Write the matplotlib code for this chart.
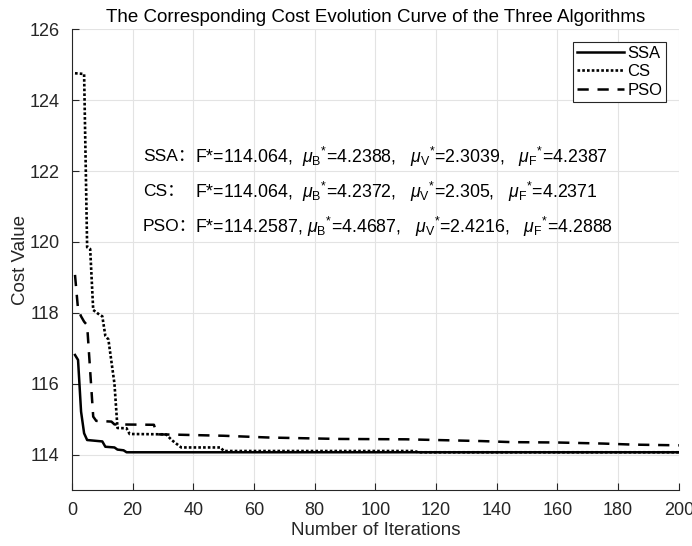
import matplotlib
matplotlib.use("Agg")
import matplotlib.pyplot as plt

# convergence curves (iteration, cost)
ssa_iter = [1, 2, 3, 4, 5, 10, 11, 14, 15, 17, 18, 200]
ssa_cost = [116.81, 116.67, 115.21, 114.6, 114.41, 114.37, 114.22, 114.2, 114.14, 114.12, 114.064, 114.064]

cs_iter = [1, 4, 5, 6, 7, 9, 10, 11, 12, 14, 15, 18, 19, 31, 33, 36, 49, 50, 113, 114, 200]
cs_cost = [124.76, 124.74, 119.85, 119.8, 118.08, 117.95, 117.9, 117.35, 117.25, 116.0, 114.75,
           114.74, 114.58, 114.57, 114.4, 114.2, 114.2, 114.1, 114.1, 114.064, 114.064]

pso_iter = [1, 2, 3, 4, 5, 7, 8, 13, 14, 27, 28, 35, 50, 65, 88, 110, 120, 135, 145, 160, 175, 185, 200]
pso_cost = [119.07, 118.1, 117.9, 117.75, 117.65, 115.07, 114.95, 114.93, 114.85, 114.84, 114.57,
            114.56, 114.53, 114.48, 114.44, 114.43, 114.41, 114.38, 114.35, 114.34, 114.31, 114.28, 114.26]

names = ["SSA", "CS", "PSO"]
results = [
    r"F*=114.064,  $\mu_{\mathrm{B}}{}^{*}$=4.2388,   $\mu_{\mathrm{V}}{}^{*}$=2.3039,   $\mu_{\mathrm{F}}{}^{*}$=4.2387",
    r"F*=114.064,  $\mu_{\mathrm{B}}{}^{*}$=4.2372,   $\mu_{\mathrm{V}}{}^{*}$=2.305,   $\mu_{\mathrm{F}}{}^{*}$=4.2371",
    r"F*=114.2587, $\mu_{\mathrm{B}}{}^{*}$=4.4687,   $\mu_{\mathrm{V}}{}^{*}$=2.4216,   $\mu_{\mathrm{F}}{}^{*}$=4.2888",
]

plt.rcParams['font.family'] = ['Liberation Sans', 'Noto Sans CJK SC', 'DejaVu Sans']
plt.rcParams['mathtext.fontset'] = 'custom'
plt.rcParams['mathtext.rm'] = 'Liberation Sans'
plt.rcParams['mathtext.it'] = 'Liberation Sans:italic'

fig = plt.figure(figsize=(6.92, 5.46), dpi=100)
ax = fig.add_axes([0.104, 0.1026, 0.877, 0.8437])

ax.plot(ssa_iter, ssa_cost, color='k', lw=1.8, ls='-', label='SSA')
ax.plot(cs_iter, cs_cost, color='k', lw=1.9, ls=(0, (1, 0.8)), label='CS')
ax.plot(pso_iter, pso_cost, color='k', lw=1.8, ls=(0, (4.5, 3.5)), label='PSO')

ax.set_xlim(0, 200)
ax.set_ylim(113, 126)
ax.set_xticks(range(0, 201, 20))
ax.set_yticks(range(114, 127, 2))
ax.grid(True, color='#e3e3e3', lw=0.8)
ax.set_axisbelow(True)
for s in ['top', 'right']:
    ax.spines[s].set_visible(False)
for s in ['left', 'bottom']:
    ax.spines[s].set_color('#262626')
ax.tick_params(direction='in', length=5, colors='#262626', labelsize=13, pad=9)

ax.set_xlabel('Number of Iterations', fontsize=13.5, color='#262626', labelpad=2)
ax.set_ylabel('Cost Value', fontsize=13.5, color='#262626', labelpad=0)
ax.set_title('The Corresponding Cost Evolution Curve of the Three Algorithms', fontsize=13.5, pad=5)

# results text, one line per algorithm
for i, (n, r) in enumerate(zip(names, results)):
    y = 122.4 - i * 0.985
    ax.text(23.4, y, n + '：', fontsize=12.5, va='center', ha='left')
    ax.text(40.5, y, r, fontsize=12.8, va='center', ha='left')

leg = ax.legend(loc='upper right', fontsize=12, fancybox=False, framealpha=1,
                edgecolor='#262626', handlelength=2.8, borderaxespad=0.75,
                labelspacing=0.2, handletextpad=0.2, borderpad=0.25)
leg.get_frame().set_linewidth(0.8)

fig.savefig('out.png', dpi=100)
